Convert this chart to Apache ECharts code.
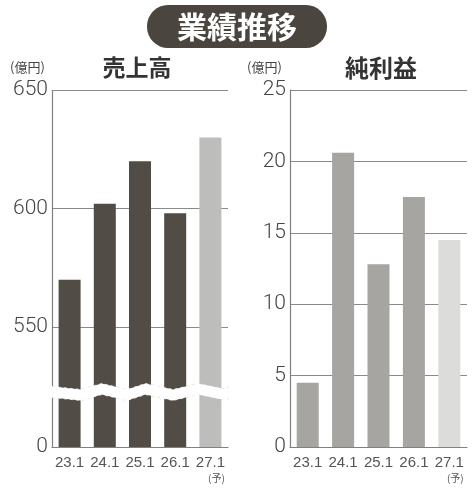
<!DOCTYPE html>
<html>
<head>
<meta charset="utf-8">
<script src="https://cdn.jsdelivr.net/npm/echarts@6/dist/echarts.min.js"></script>
<style>
  html, body { margin: 0; padding: 0; background: #fff; }
  #chart { width: 474px; height: 500px; }
</style>
</head>
<body>
<div id="chart"></div>
<script>
// 決算期
const periods = ['23.1', '24.1', '25.1', '26.1', '27.1'];
// 売上高（億円）、27.1は予想
const sales = [570, 602, 620, 598, 630];
// 純利益（億円）
const profit = [4.5, 20.6, 12.8, 17.5, 14.5];
// 目盛り
const salesTicks = [0, 550, 600, 650];
const profitTicks = [0, 5, 10, 15, 20, 25];

const chart = echarts.init(document.getElementById('chart'));

const numFont = 'Roboto, "Liberation Sans", sans-serif';
const jpFont = '"Noto Sans CJK JP", sans-serif';

function barData(values, normal, forecast) {
  return values.map((v, i) => ({
    value: v,
    itemStyle: { color: i === values.length - 1 ? forecast : normal }
  }));
}

function xAxisOf(gridIndex) {
  return {
    type: 'category',
    gridIndex: gridIndex,
    data: periods,
    axisTick: { show: false },
    axisLine: { lineStyle: { color: '#808080', width: 1.2 } },
    axisLabel: {
      interval: 0,
      margin: 8,
      color: '#555',
      fontFamily: '"Liberation Sans Narrow", sans-serif',
      fontSize: 15,
      lineHeight: 15,
      formatter: (v, i) => i === periods.length - 1 ? v + '\n{s|(予)}' : v,
      rich: { s: { fontSize: 10, lineHeight: 16, fontFamily: jpFont, color: '#555', padding: [0, 0, 0, 12] } }
    }
  };
}

function yAxisOf(gridIndex, max, interval, ticks) {
  return {
    type: 'value',
    gridIndex: gridIndex,
    min: 0,
    max: max,
    interval: interval,
    axisLine: { show: true, lineStyle: { color: '#808080', width: 1.2 } },
    axisTick: { show: false, customValues: ticks },
    splitLine: { lineStyle: { color: '#8a8a8a', width: 1.2 } },
    axisLabel: {
      customValues: ticks,
      hideOverlap: false,
      margin: 4,
      padding: [0, 0, 6, 0],
      color: '#444',
      fontFamily: numFont,
      fontSize: 21,
      fontWeight: 300
    }
  };
}

const salesAxis = yAxisOf(0, 650, 50, salesTicks);
salesAxis.breaks = [{ start: 21, end: 525, gap: '3%' }];
salesAxis.breakArea = {
  show: true,
  expandOnClick: false,
  zigzagAmplitude: 3,
  zigzagMinSpan: 18,
  zigzagMaxSpan: 30,
  itemStyle: { color: '#fff', borderColor: '#d8d8d8', borderWidth: 1, opacity: 1 }
};
salesAxis.breakLabelLayout = { moveOverlap: false };

chart.setOption({
  animation: false,
  title: [
    { text: '売上高', left: 132, top: 51, textAlign: 'center',
      textStyle: { fontFamily: jpFont, fontSize: 23, fontWeight: 'bold', color: '#333' } },
    { text: '純利益', left: 376, top: 51, textAlign: 'center',
      textStyle: { fontFamily: jpFont, fontSize: 24, fontWeight: 'bold', color: '#333' } },
    { text: '(億円)', left: 5, top: 56,
      textStyle: { fontFamily: jpFont, fontSize: 13, fontWeight: 'normal', color: '#444' } },
    { text: '(億円)', left: 242, top: 56,
      textStyle: { fontFamily: jpFont, fontSize: 13, fontWeight: 'normal', color: '#444' } }
  ],
  graphic: [{
    type: 'rect',
    shape: { x: 147, y: 5, width: 180, height: 43, r: 21 },
    style: { fill: '#4a463f' }
  }, {
    type: 'text',
    x: 237, y: 27,
    style: {
      text: '業績推移', fill: '#fff', align: 'center', verticalAlign: 'middle',
      font: 'bold 30px "Noto Sans CJK JP", sans-serif'
    }
  }],
  grid: [
    { left: 52, top: 90, width: 176, height: 357 },
    { left: 290, top: 90, width: 177, height: 357 }
  ],
  xAxis: [xAxisOf(0), xAxisOf(1)],
  yAxis: [salesAxis, yAxisOf(1, 25, 5, profitTicks)],
  series: [{
    type: 'bar',
    xAxisIndex: 0,
    yAxisIndex: 0,
    barWidth: 22,
    data: barData(sales, '#514d46', '#bdbdbb')
  }, {
    type: 'bar',
    xAxisIndex: 1,
    yAxisIndex: 1,
    barWidth: 22,
    data: barData(profit, '#a6a5a1', '#dcdcda')
  }]
});
</script>
</body>
</html>
